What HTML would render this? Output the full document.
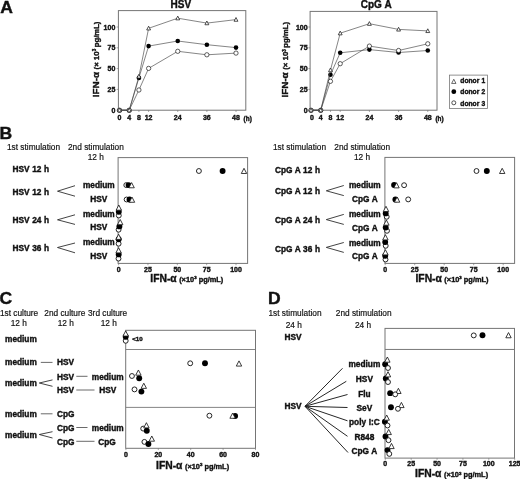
<!DOCTYPE html>
<html><head><meta charset="utf-8"><title>Figure</title>
<style>
html,body{margin:0;padding:0;background:#fff;}
body{width:520px;height:479px;overflow:hidden;}
svg{display:block;will-change:transform;filter:grayscale(1) blur(0.35px);font-family:'Liberation Sans', sans-serif;fill:#111;}
.b{font-weight:bold;word-spacing:0.3px;stroke:#111;stroke-width:0.38px;}
.n{font-weight:normal;stroke:#111;stroke-width:0.18px;}
</style></head><body>
<svg width="520" height="479" viewBox="0 0 520 479">
<rect width="520" height="479" fill="#fff"/>
<text class="b" transform="translate(0.20,12.80) scale(1.07,1)" font-size="16.4">A</text>
<rect x="118.40" y="10.60" width="127.40" height="99.60" fill="none" stroke="#757575" stroke-width="1.0"/>
<text class="b" x="180.80" y="7.70" font-size="10" text-anchor="middle" >HSV</text>
<line x1="116.60" y1="110.20" x2="118.40" y2="110.20" stroke="#6e6e6e" stroke-width="0.6"/>
<text class="b" x="115.30" y="112.80" font-size="7" text-anchor="end" >0</text>
<line x1="116.60" y1="89.40" x2="118.40" y2="89.40" stroke="#6e6e6e" stroke-width="0.6"/>
<text class="b" x="115.30" y="92.00" font-size="7" text-anchor="end" >25</text>
<line x1="116.60" y1="68.60" x2="118.40" y2="68.60" stroke="#6e6e6e" stroke-width="0.6"/>
<text class="b" x="115.30" y="71.20" font-size="7" text-anchor="end" >50</text>
<line x1="116.60" y1="47.80" x2="118.40" y2="47.80" stroke="#6e6e6e" stroke-width="0.6"/>
<text class="b" x="115.30" y="50.40" font-size="7" text-anchor="end" >75</text>
<line x1="116.60" y1="27.00" x2="118.40" y2="27.00" stroke="#6e6e6e" stroke-width="0.6"/>
<text class="b" x="115.30" y="29.60" font-size="7" text-anchor="end" >100</text>
<line x1="119.50" y1="110.20" x2="119.50" y2="112.00" stroke="#6e6e6e" stroke-width="0.6"/>
<text class="b" x="119.50" y="120.20" font-size="7" text-anchor="middle" >0</text>
<line x1="129.21" y1="110.20" x2="129.21" y2="112.00" stroke="#6e6e6e" stroke-width="0.6"/>
<text class="b" x="129.21" y="120.20" font-size="7" text-anchor="middle" >4</text>
<line x1="138.92" y1="110.20" x2="138.92" y2="112.00" stroke="#6e6e6e" stroke-width="0.6"/>
<text class="b" x="138.92" y="120.20" font-size="7" text-anchor="middle" >8</text>
<line x1="148.62" y1="110.20" x2="148.62" y2="112.00" stroke="#6e6e6e" stroke-width="0.6"/>
<text class="b" x="148.62" y="120.20" font-size="7" text-anchor="middle" >12</text>
<line x1="177.75" y1="110.20" x2="177.75" y2="112.00" stroke="#6e6e6e" stroke-width="0.6"/>
<text class="b" x="177.75" y="120.20" font-size="7" text-anchor="middle" >24</text>
<line x1="206.87" y1="110.20" x2="206.87" y2="112.00" stroke="#6e6e6e" stroke-width="0.6"/>
<text class="b" x="206.87" y="120.20" font-size="7" text-anchor="middle" >36</text>
<line x1="236.00" y1="110.20" x2="236.00" y2="112.00" stroke="#6e6e6e" stroke-width="0.6"/>
<text class="b" x="236.00" y="120.20" font-size="7" text-anchor="middle" >48</text>
<text class="b" x="243.60" y="120.90" font-size="6.4" text-anchor="start" >(h)</text>
<text transform="translate(95.50,59.40) rotate(-90)" text-anchor="middle" class="b" y="3.4"><tspan font-size="9.9">IFN-α</tspan><tspan font-size="7.7" dx="2.5">(× 10</tspan><tspan font-size="4.6" dy="-2.9">3 </tspan><tspan font-size="7.7" dy="2.9">pg/mL)</tspan></text>
<polyline points="119.50,110.20 129.21,110.20 138.92,77.90 148.62,46.10 177.75,41.00 206.87,44.70 236.00,47.60" fill="none" stroke="#444" stroke-width="0.65"/>
<circle cx="119.50" cy="110.20" r="2.3" fill="#000"/>
<circle cx="129.21" cy="110.20" r="2.3" fill="#000"/>
<circle cx="138.92" cy="77.90" r="2.3" fill="#000"/>
<circle cx="148.62" cy="46.10" r="2.3" fill="#000"/>
<circle cx="177.75" cy="41.00" r="2.3" fill="#000"/>
<circle cx="206.87" cy="44.70" r="2.3" fill="#000"/>
<circle cx="236.00" cy="47.60" r="2.3" fill="#000"/>
<polyline points="119.50,110.20 129.21,110.20 138.92,90.00 148.62,68.40 177.75,51.30 206.87,54.80 236.00,53.10" fill="none" stroke="#444" stroke-width="0.65"/>
<circle cx="119.50" cy="110.20" r="2.15" fill="#fff" stroke="#1a1a1a" stroke-width="0.7"/>
<circle cx="129.21" cy="110.20" r="2.15" fill="#fff" stroke="#1a1a1a" stroke-width="0.7"/>
<circle cx="138.92" cy="90.00" r="2.15" fill="#fff" stroke="#1a1a1a" stroke-width="0.7"/>
<circle cx="148.62" cy="68.40" r="2.15" fill="#fff" stroke="#1a1a1a" stroke-width="0.7"/>
<circle cx="177.75" cy="51.30" r="2.15" fill="#fff" stroke="#1a1a1a" stroke-width="0.7"/>
<circle cx="206.87" cy="54.80" r="2.15" fill="#fff" stroke="#1a1a1a" stroke-width="0.7"/>
<circle cx="236.00" cy="53.10" r="2.15" fill="#fff" stroke="#1a1a1a" stroke-width="0.7"/>
<polyline points="119.50,110.20 129.21,110.20 138.92,76.40 148.62,28.30 177.75,18.20 206.87,23.10 236.00,19.60" fill="none" stroke="#444" stroke-width="0.65"/>
<path d="M119.50,108.10 L121.44,111.85 L117.56,111.85 Z" fill="#fff" stroke="#1a1a1a" stroke-width="0.75" stroke-linejoin="miter"/>
<path d="M129.21,108.10 L131.15,111.85 L127.26,111.85 Z" fill="#fff" stroke="#1a1a1a" stroke-width="0.75" stroke-linejoin="miter"/>
<path d="M138.92,74.30 L140.86,78.05 L136.97,78.05 Z" fill="#fff" stroke="#1a1a1a" stroke-width="0.75" stroke-linejoin="miter"/>
<path d="M148.62,26.20 L150.57,29.95 L146.68,29.95 Z" fill="#fff" stroke="#1a1a1a" stroke-width="0.75" stroke-linejoin="miter"/>
<path d="M177.75,16.10 L179.69,19.85 L175.80,19.85 Z" fill="#fff" stroke="#1a1a1a" stroke-width="0.75" stroke-linejoin="miter"/>
<path d="M206.87,21.00 L208.82,24.75 L204.93,24.75 Z" fill="#fff" stroke="#1a1a1a" stroke-width="0.75" stroke-linejoin="miter"/>
<path d="M236.00,17.50 L237.94,21.25 L234.05,21.25 Z" fill="#fff" stroke="#1a1a1a" stroke-width="0.75" stroke-linejoin="miter"/>
<rect x="310.10" y="11.40" width="126.90" height="98.80" fill="none" stroke="#757575" stroke-width="1.0"/>
<text class="b" x="376.30" y="7.70" font-size="10" text-anchor="middle" >CpG A</text>
<line x1="308.30" y1="110.20" x2="310.10" y2="110.20" stroke="#6e6e6e" stroke-width="0.6"/>
<text class="b" x="307.60" y="112.80" font-size="7" text-anchor="end" >0</text>
<line x1="308.30" y1="89.40" x2="310.10" y2="89.40" stroke="#6e6e6e" stroke-width="0.6"/>
<text class="b" x="307.60" y="92.00" font-size="7" text-anchor="end" >25</text>
<line x1="308.30" y1="68.60" x2="310.10" y2="68.60" stroke="#6e6e6e" stroke-width="0.6"/>
<text class="b" x="307.60" y="71.20" font-size="7" text-anchor="end" >50</text>
<line x1="308.30" y1="47.80" x2="310.10" y2="47.80" stroke="#6e6e6e" stroke-width="0.6"/>
<text class="b" x="307.60" y="50.40" font-size="7" text-anchor="end" >75</text>
<line x1="308.30" y1="27.00" x2="310.10" y2="27.00" stroke="#6e6e6e" stroke-width="0.6"/>
<text class="b" x="307.60" y="29.60" font-size="7" text-anchor="end" >100</text>
<line x1="311.00" y1="110.20" x2="311.00" y2="112.00" stroke="#6e6e6e" stroke-width="0.6"/>
<text class="b" x="311.90" y="120.20" font-size="7" text-anchor="middle" >0</text>
<line x1="320.73" y1="110.20" x2="320.73" y2="112.00" stroke="#6e6e6e" stroke-width="0.6"/>
<text class="b" x="320.73" y="120.20" font-size="7" text-anchor="middle" >4</text>
<line x1="330.46" y1="110.20" x2="330.46" y2="112.00" stroke="#6e6e6e" stroke-width="0.6"/>
<text class="b" x="330.46" y="120.20" font-size="7" text-anchor="middle" >8</text>
<line x1="340.20" y1="110.20" x2="340.20" y2="112.00" stroke="#6e6e6e" stroke-width="0.6"/>
<text class="b" x="340.20" y="120.20" font-size="7" text-anchor="middle" >12</text>
<line x1="369.39" y1="110.20" x2="369.39" y2="112.00" stroke="#6e6e6e" stroke-width="0.6"/>
<text class="b" x="369.39" y="120.20" font-size="7" text-anchor="middle" >24</text>
<line x1="398.59" y1="110.20" x2="398.59" y2="112.00" stroke="#6e6e6e" stroke-width="0.6"/>
<text class="b" x="398.59" y="120.20" font-size="7" text-anchor="middle" >36</text>
<line x1="427.78" y1="110.20" x2="427.78" y2="112.00" stroke="#6e6e6e" stroke-width="0.6"/>
<text class="b" x="427.78" y="120.20" font-size="7" text-anchor="middle" >48</text>
<text class="b" x="435.38" y="120.90" font-size="6.4" text-anchor="start" >(h)</text>
<text transform="translate(285.00,59.80) rotate(-90)" text-anchor="middle" class="b" y="3.4"><tspan font-size="9.9">IFN-α</tspan><tspan font-size="7.7" dx="2.5">(× 10</tspan><tspan font-size="4.6" dy="-2.9">3 </tspan><tspan font-size="7.7" dy="2.9">pg/mL)</tspan></text>
<polyline points="311.00,110.20 320.73,110.20 330.46,74.70 340.20,52.80 369.39,49.60 398.59,52.50 427.78,50.50" fill="none" stroke="#444" stroke-width="0.65"/>
<circle cx="311.00" cy="110.20" r="2.3" fill="#000"/>
<circle cx="320.73" cy="110.20" r="2.3" fill="#000"/>
<circle cx="330.46" cy="74.70" r="2.3" fill="#000"/>
<circle cx="340.20" cy="52.80" r="2.3" fill="#000"/>
<circle cx="369.39" cy="49.60" r="2.3" fill="#000"/>
<circle cx="398.59" cy="52.50" r="2.3" fill="#000"/>
<circle cx="427.78" cy="50.50" r="2.3" fill="#000"/>
<polyline points="311.00,110.20 320.73,110.20 330.46,81.30 340.20,63.70 369.39,46.10 398.59,50.50 427.78,43.80" fill="none" stroke="#444" stroke-width="0.65"/>
<circle cx="311.00" cy="110.20" r="2.15" fill="#fff" stroke="#1a1a1a" stroke-width="0.7"/>
<circle cx="320.73" cy="110.20" r="2.15" fill="#fff" stroke="#1a1a1a" stroke-width="0.7"/>
<circle cx="330.46" cy="81.30" r="2.15" fill="#fff" stroke="#1a1a1a" stroke-width="0.7"/>
<circle cx="340.20" cy="63.70" r="2.15" fill="#fff" stroke="#1a1a1a" stroke-width="0.7"/>
<circle cx="369.39" cy="46.10" r="2.15" fill="#fff" stroke="#1a1a1a" stroke-width="0.7"/>
<circle cx="398.59" cy="50.50" r="2.15" fill="#fff" stroke="#1a1a1a" stroke-width="0.7"/>
<circle cx="427.78" cy="43.80" r="2.15" fill="#fff" stroke="#1a1a1a" stroke-width="0.7"/>
<polyline points="311.00,110.20 320.73,110.20 330.46,70.10 340.20,33.20 369.39,23.70 398.59,29.40 427.78,30.90" fill="none" stroke="#444" stroke-width="0.65"/>
<path d="M311.00,108.10 L312.94,111.85 L309.06,111.85 Z" fill="#fff" stroke="#1a1a1a" stroke-width="0.75" stroke-linejoin="miter"/>
<path d="M320.73,108.10 L322.68,111.85 L318.79,111.85 Z" fill="#fff" stroke="#1a1a1a" stroke-width="0.75" stroke-linejoin="miter"/>
<path d="M330.46,68.00 L332.41,71.75 L328.52,71.75 Z" fill="#fff" stroke="#1a1a1a" stroke-width="0.75" stroke-linejoin="miter"/>
<path d="M340.20,31.10 L342.14,34.85 L338.25,34.85 Z" fill="#fff" stroke="#1a1a1a" stroke-width="0.75" stroke-linejoin="miter"/>
<path d="M369.39,21.60 L371.34,25.35 L367.45,25.35 Z" fill="#fff" stroke="#1a1a1a" stroke-width="0.75" stroke-linejoin="miter"/>
<path d="M398.59,27.30 L400.53,31.05 L396.64,31.05 Z" fill="#fff" stroke="#1a1a1a" stroke-width="0.75" stroke-linejoin="miter"/>
<path d="M427.78,28.80 L429.73,32.55 L425.84,32.55 Z" fill="#fff" stroke="#1a1a1a" stroke-width="0.75" stroke-linejoin="miter"/>
<rect x="449.40" y="75.10" width="38.10" height="33.40" fill="none" stroke="#777" stroke-width="0.8"/>
<path d="M453.80,79.27 L455.96,83.43 L451.64,83.43 Z" fill="#fff" stroke="#1a1a1a" stroke-width="0.65" stroke-linejoin="miter"/>
<circle cx="453.80" cy="91.70" r="2.4" fill="#000"/>
<circle cx="453.80" cy="102.80" r="2.0" fill="#fff" stroke="#1a1a1a" stroke-width="0.75"/>
<text class="b" x="460.30" y="83.10" font-size="6.7" text-anchor="start" >donor 1</text>
<text class="b" x="460.30" y="94.20" font-size="6.7" text-anchor="start" >donor 2</text>
<text class="b" x="460.30" y="105.70" font-size="6.7" text-anchor="start" >donor 3</text>
<text class="b" transform="translate(-0.50,138.50) scale(1.07,1)" font-size="16.4">B</text>
<rect x="118.10" y="157.60" width="129.50" height="105.80" fill="none" stroke="#757575" stroke-width="1.0"/>
<text class="n" x="7.00" y="150.20" font-size="8.3" text-anchor="start" >1st stimulation</text>
<text class="n" x="68.00" y="150.20" font-size="8.3" text-anchor="start" >2nd stimulation</text>
<text class="n" x="95.80" y="160.10" font-size="8.3" text-anchor="middle" >12 h</text>
<text class="b" x="12.50" y="172.49" font-size="8.3" text-anchor="start" >HSV 12 h</text>
<text class="b" x="12.50" y="195.29" font-size="8.3" text-anchor="start" >HSV 12 h</text>
<text class="b" x="12.50" y="222.99" font-size="8.3" text-anchor="start" >HSV 24 h</text>
<text class="b" x="12.50" y="250.99" font-size="8.3" text-anchor="start" >HSV 36 h</text>
<text class="b" x="98.80" y="188.49" font-size="8.3" text-anchor="middle" >medium</text>
<text class="b" x="98.80" y="202.39" font-size="8.3" text-anchor="middle" >HSV</text>
<text class="b" x="98.80" y="217.49" font-size="8.3" text-anchor="middle" >medium</text>
<text class="b" x="98.80" y="230.19" font-size="8.3" text-anchor="middle" >HSV</text>
<text class="b" x="98.80" y="245.49" font-size="8.3" text-anchor="middle" >medium</text>
<text class="b" x="98.80" y="258.89" font-size="8.3" text-anchor="middle" >HSV</text>
<polyline points="75.00,185.70 57.50,191.20 75.00,196.20" fill="none" stroke="#222" stroke-width="0.85"/>
<polyline points="75.00,214.80 57.50,219.80 75.00,224.40" fill="none" stroke="#222" stroke-width="0.85"/>
<polyline points="75.00,243.00 57.50,247.50 75.00,252.80" fill="none" stroke="#222" stroke-width="0.85"/>
<line x1="118.60" y1="263.40" x2="118.60" y2="265.20" stroke="#6e6e6e" stroke-width="0.6"/>
<text class="b" x="118.60" y="271.80" font-size="7.0" text-anchor="middle" >0</text>
<line x1="147.95" y1="263.40" x2="147.95" y2="265.20" stroke="#6e6e6e" stroke-width="0.6"/>
<text class="b" x="147.95" y="271.80" font-size="7.0" text-anchor="middle" >25</text>
<line x1="177.30" y1="263.40" x2="177.30" y2="265.20" stroke="#6e6e6e" stroke-width="0.6"/>
<text class="b" x="177.30" y="271.80" font-size="7.0" text-anchor="middle" >50</text>
<line x1="206.65" y1="263.40" x2="206.65" y2="265.20" stroke="#6e6e6e" stroke-width="0.6"/>
<text class="b" x="206.65" y="271.80" font-size="7.0" text-anchor="middle" >75</text>
<line x1="236.00" y1="263.40" x2="236.00" y2="265.20" stroke="#6e6e6e" stroke-width="0.6"/>
<text class="b" x="236.00" y="271.80" font-size="7.0" text-anchor="middle" >100</text>
<text x="186.80" y="281.70" text-anchor="middle" class="b"><tspan font-size="10.3">IFN-α</tspan><tspan font-size="7.4" dx="2.5">(×10</tspan><tspan font-size="4.4" dy="-2.8">3</tspan><tspan font-size="7.4" dy="2.8" dx="-0.3"> pg/mL)</tspan></text>
<circle cx="198.90" cy="171.00" r="2.45" fill="#fff" stroke="#1a1a1a" stroke-width="0.95"/>
<circle cx="222.60" cy="171.00" r="2.95" fill="#000"/>
<path d="M244.00,168.29 L246.70,173.49 L241.30,173.49 Z" fill="#fff" stroke="#1a1a1a" stroke-width="0.85" stroke-linejoin="miter"/>
<circle cx="126.30" cy="185.10" r="2.45" fill="#fff" stroke="#1a1a1a" stroke-width="0.95"/>
<circle cx="128.60" cy="185.10" r="2.95" fill="#000"/>
<path d="M131.60,182.59 L134.30,187.79 L128.90,187.79 Z" fill="#fff" stroke="#1a1a1a" stroke-width="0.85" stroke-linejoin="miter"/>
<circle cx="126.60" cy="199.50" r="2.45" fill="#fff" stroke="#1a1a1a" stroke-width="0.95"/>
<circle cx="129.50" cy="199.50" r="2.95" fill="#000"/>
<path d="M132.00,197.09 L134.70,202.29 L129.30,202.29 Z" fill="#fff" stroke="#1a1a1a" stroke-width="0.85" stroke-linejoin="miter"/>
<circle cx="118.80" cy="215.50" r="2.45" fill="#fff" stroke="#1a1a1a" stroke-width="0.95"/>
<circle cx="118.80" cy="211.75" r="2.95" fill="#000"/>
<path d="M118.80,204.99 L121.50,210.19 L116.10,210.19 Z" fill="#fff" stroke="#1a1a1a" stroke-width="0.85" stroke-linejoin="miter"/>
<circle cx="118.60" cy="229.70" r="2.45" fill="#fff" stroke="#1a1a1a" stroke-width="0.95"/>
<circle cx="119.40" cy="226.40" r="2.95" fill="#000"/>
<path d="M120.20,219.49 L122.90,224.69 L117.50,224.69 Z" fill="#fff" stroke="#1a1a1a" stroke-width="0.85" stroke-linejoin="miter"/>
<circle cx="118.60" cy="243.70" r="2.45" fill="#fff" stroke="#1a1a1a" stroke-width="0.95"/>
<circle cx="118.70" cy="239.30" r="2.95" fill="#000"/>
<path d="M118.60,234.19 L121.30,239.39 L115.90,239.39 Z" fill="#fff" stroke="#1a1a1a" stroke-width="0.85" stroke-linejoin="miter"/>
<circle cx="118.50" cy="258.60" r="2.45" fill="#fff" stroke="#1a1a1a" stroke-width="0.95"/>
<circle cx="118.70" cy="254.40" r="2.95" fill="#000"/>
<path d="M118.60,247.69 L121.30,252.89 L115.90,252.89 Z" fill="#fff" stroke="#1a1a1a" stroke-width="0.85" stroke-linejoin="miter"/>
<rect x="384.90" y="157.40" width="129.70" height="106.00" fill="none" stroke="#757575" stroke-width="1.0"/>
<text class="n" x="273.00" y="150.20" font-size="8.3" text-anchor="start" >1st stimulation</text>
<text class="n" x="334.30" y="150.20" font-size="8.3" text-anchor="start" >2nd stimulation</text>
<text class="n" x="362.00" y="160.10" font-size="8.3" text-anchor="middle" >12 h</text>
<text class="b" x="275.00" y="172.69" font-size="8.3" text-anchor="start" >CpG A 12 h</text>
<text class="b" x="275.00" y="194.19" font-size="8.3" text-anchor="start" >CpG A 12 h</text>
<text class="b" x="275.00" y="222.79" font-size="8.3" text-anchor="start" >CpG A 24 h</text>
<text class="b" x="275.00" y="251.59" font-size="8.3" text-anchor="start" >CpG A 36 h</text>
<text class="b" x="364.80" y="188.49" font-size="8.3" text-anchor="middle" >medium</text>
<text class="b" x="364.80" y="202.39" font-size="8.3" text-anchor="middle" >CpG A</text>
<text class="b" x="364.80" y="216.99" font-size="8.3" text-anchor="middle" >medium</text>
<text class="b" x="364.80" y="230.89" font-size="8.3" text-anchor="middle" >CpG A</text>
<text class="b" x="364.80" y="246.19" font-size="8.3" text-anchor="middle" >medium</text>
<text class="b" x="364.80" y="259.29" font-size="8.3" text-anchor="middle" >CpG A</text>
<polyline points="343.80,185.50 326.30,190.80 343.80,195.60" fill="none" stroke="#222" stroke-width="0.85"/>
<polyline points="343.80,214.40 326.30,219.60 343.80,224.40" fill="none" stroke="#222" stroke-width="0.85"/>
<polyline points="343.80,242.50 326.30,247.40 343.80,252.40" fill="none" stroke="#222" stroke-width="0.85"/>
<line x1="385.20" y1="263.40" x2="385.20" y2="265.20" stroke="#6e6e6e" stroke-width="0.6"/>
<text class="b" x="385.20" y="271.80" font-size="7.0" text-anchor="middle" >0</text>
<line x1="414.70" y1="263.40" x2="414.70" y2="265.20" stroke="#6e6e6e" stroke-width="0.6"/>
<text class="b" x="414.70" y="271.80" font-size="7.0" text-anchor="middle" >25</text>
<line x1="444.20" y1="263.40" x2="444.20" y2="265.20" stroke="#6e6e6e" stroke-width="0.6"/>
<text class="b" x="444.20" y="271.80" font-size="7.0" text-anchor="middle" >50</text>
<line x1="473.70" y1="263.40" x2="473.70" y2="265.20" stroke="#6e6e6e" stroke-width="0.6"/>
<text class="b" x="473.70" y="271.80" font-size="7.0" text-anchor="middle" >75</text>
<line x1="503.20" y1="263.40" x2="503.20" y2="265.20" stroke="#6e6e6e" stroke-width="0.6"/>
<text class="b" x="503.20" y="271.80" font-size="7.0" text-anchor="middle" >100</text>
<text x="452.00" y="281.70" text-anchor="middle" class="b"><tspan font-size="10.3">IFN-α</tspan><tspan font-size="7.4" dx="2.5">(×10</tspan><tspan font-size="4.4" dy="-2.8">3</tspan><tspan font-size="7.4" dy="2.8" dx="-0.3"> pg/mL)</tspan></text>
<circle cx="476.50" cy="171.00" r="2.45" fill="#fff" stroke="#1a1a1a" stroke-width="0.95"/>
<circle cx="486.80" cy="171.00" r="2.95" fill="#000"/>
<path d="M502.20,168.29 L504.90,173.49 L499.50,173.49 Z" fill="#fff" stroke="#1a1a1a" stroke-width="0.85" stroke-linejoin="miter"/>
<circle cx="404.10" cy="185.20" r="2.45" fill="#fff" stroke="#1a1a1a" stroke-width="0.95"/>
<circle cx="394.10" cy="185.00" r="2.95" fill="#000"/>
<path d="M396.50,182.69 L399.20,187.89 L393.80,187.89 Z" fill="#fff" stroke="#1a1a1a" stroke-width="0.85" stroke-linejoin="miter"/>
<circle cx="408.20" cy="199.40" r="2.45" fill="#fff" stroke="#1a1a1a" stroke-width="0.95"/>
<circle cx="395.40" cy="199.40" r="2.95" fill="#000"/>
<path d="M397.10,196.99 L399.80,202.19 L394.40,202.19 Z" fill="#fff" stroke="#1a1a1a" stroke-width="0.85" stroke-linejoin="miter"/>
<circle cx="386.70" cy="216.80" r="2.45" fill="#fff" stroke="#1a1a1a" stroke-width="0.95"/>
<circle cx="385.70" cy="213.40" r="2.95" fill="#000"/>
<path d="M386.00,206.29 L388.70,211.49 L383.30,211.49 Z" fill="#fff" stroke="#1a1a1a" stroke-width="0.85" stroke-linejoin="miter"/>
<circle cx="387.00" cy="230.80" r="2.45" fill="#fff" stroke="#1a1a1a" stroke-width="0.95"/>
<circle cx="385.70" cy="227.50" r="2.95" fill="#000"/>
<path d="M386.40,219.99 L389.10,225.19 L383.70,225.19 Z" fill="#fff" stroke="#1a1a1a" stroke-width="0.85" stroke-linejoin="miter"/>
<circle cx="385.70" cy="245.80" r="2.45" fill="#fff" stroke="#1a1a1a" stroke-width="0.95"/>
<circle cx="385.20" cy="242.10" r="2.95" fill="#000"/>
<path d="M385.40,234.69 L388.10,239.89 L382.70,239.89 Z" fill="#fff" stroke="#1a1a1a" stroke-width="0.85" stroke-linejoin="miter"/>
<circle cx="385.50" cy="259.50" r="2.45" fill="#fff" stroke="#1a1a1a" stroke-width="0.95"/>
<circle cx="385.20" cy="255.80" r="2.95" fill="#000"/>
<path d="M385.40,249.69 L388.10,254.89 L382.70,254.89 Z" fill="#fff" stroke="#1a1a1a" stroke-width="0.85" stroke-linejoin="miter"/>
<text class="b" transform="translate(-0.40,303.50) scale(1.07,1)" font-size="16.4">C</text>
<text class="n" x="-0.10" y="315.90" font-size="8.3" text-anchor="start" >1st culture</text>
<text class="n" x="44.30" y="315.80" font-size="8.3" text-anchor="start" >2nd culture</text>
<text class="n" x="88.00" y="315.80" font-size="8.3" text-anchor="start" >3rd culture</text>
<text class="n" x="18.80" y="326.30" font-size="8.3" text-anchor="middle" >12 h</text>
<text class="n" x="65.80" y="326.30" font-size="8.3" text-anchor="middle" >12 h</text>
<text class="n" x="108.80" y="326.30" font-size="8.3" text-anchor="middle" >12 h</text>
<rect x="125.70" y="330.30" width="129.80" height="118.00" fill="none" stroke="#757575" stroke-width="1.0"/>
<line x1="125.70" y1="349.50" x2="255.50" y2="349.50" stroke="#777" stroke-width="0.9"/>
<line x1="125.70" y1="407.40" x2="255.50" y2="407.40" stroke="#777" stroke-width="0.9"/>
<line x1="125.90" y1="448.30" x2="125.90" y2="450.10" stroke="#6e6e6e" stroke-width="0.6"/>
<text class="b" x="125.90" y="456.60" font-size="7.0" text-anchor="middle" >0</text>
<line x1="158.30" y1="448.30" x2="158.30" y2="450.10" stroke="#6e6e6e" stroke-width="0.6"/>
<text class="b" x="158.30" y="456.60" font-size="7.0" text-anchor="middle" >20</text>
<line x1="190.70" y1="448.30" x2="190.70" y2="450.10" stroke="#6e6e6e" stroke-width="0.6"/>
<text class="b" x="190.70" y="456.60" font-size="7.0" text-anchor="middle" >40</text>
<line x1="223.10" y1="448.30" x2="223.10" y2="450.10" stroke="#6e6e6e" stroke-width="0.6"/>
<text class="b" x="223.10" y="456.60" font-size="7.0" text-anchor="middle" >60</text>
<line x1="255.50" y1="448.30" x2="255.50" y2="450.10" stroke="#6e6e6e" stroke-width="0.6"/>
<text class="b" x="255.50" y="456.60" font-size="7.0" text-anchor="middle" >80</text>
<text x="192.60" y="468.60" text-anchor="middle" class="b"><tspan font-size="10.3">IFN-α</tspan><tspan font-size="7.4" dx="2.5">(×10</tspan><tspan font-size="4.4" dy="-2.8">3</tspan><tspan font-size="7.4" dy="2.8" dx="-0.3"> pg/mL)</tspan></text>
<text class="b" x="5.00" y="342.09" font-size="8.3" text-anchor="start" >medium</text>
<text class="b" x="5.00" y="365.29" font-size="8.3" text-anchor="start" >medium</text>
<line x1="40.80" y1="362.40" x2="52.50" y2="362.40" stroke="#444" stroke-width="0.8"/>
<text class="b" x="57.00" y="365.29" font-size="8.3" text-anchor="start" >HSV</text>
<text class="b" x="5.00" y="386.29" font-size="8.3" text-anchor="start" >medium</text>
<polyline points="52.50,379.90 39.30,383.00 52.50,386.30" fill="none" stroke="#222" stroke-width="0.85"/>
<text class="b" x="57.00" y="379.79" font-size="8.3" text-anchor="start" >HSV</text>
<line x1="76.30" y1="376.30" x2="87.50" y2="376.30" stroke="#444" stroke-width="0.8"/>
<text class="b" x="91.80" y="379.59" font-size="8.3" text-anchor="start" >medium</text>
<text class="b" x="57.00" y="393.49" font-size="8.3" text-anchor="start" >HSV</text>
<line x1="76.30" y1="390.00" x2="94.50" y2="390.00" stroke="#444" stroke-width="0.8"/>
<text class="b" x="99.30" y="393.49" font-size="8.3" text-anchor="start" >HSV</text>
<text class="b" x="5.00" y="416.99" font-size="8.3" text-anchor="start" >medium</text>
<line x1="40.80" y1="413.80" x2="52.50" y2="413.80" stroke="#444" stroke-width="0.8"/>
<text class="b" x="57.00" y="417.29" font-size="8.3" text-anchor="start" >CpG</text>
<text class="b" x="5.00" y="437.79" font-size="8.3" text-anchor="start" >medium</text>
<polyline points="52.50,431.70 39.30,434.50 52.50,438.00" fill="none" stroke="#222" stroke-width="0.85"/>
<text class="b" x="57.00" y="430.99" font-size="8.3" text-anchor="start" >CpG</text>
<line x1="76.30" y1="427.50" x2="87.50" y2="427.50" stroke="#444" stroke-width="0.8"/>
<text class="b" x="91.80" y="430.79" font-size="8.3" text-anchor="start" >medium</text>
<text class="b" x="57.00" y="444.79" font-size="8.3" text-anchor="start" >CpG</text>
<line x1="76.30" y1="441.30" x2="94.50" y2="441.30" stroke="#444" stroke-width="0.8"/>
<text class="b" x="98.30" y="444.79" font-size="8.3" text-anchor="start" >CpG</text>
<text class="b" x="132.20" y="340.90" font-size="6.2" text-anchor="start" >&lt;10</text>
<circle cx="125.70" cy="340.80" r="2.45" fill="#fff" stroke="#1a1a1a" stroke-width="0.95"/>
<circle cx="125.70" cy="336.80" r="2.95" fill="#000"/>
<path d="M125.70,330.89 L128.40,336.09 L123.00,336.09 Z" fill="#fff" stroke="#1a1a1a" stroke-width="0.85" stroke-linejoin="miter"/>
<circle cx="190.20" cy="363.30" r="2.45" fill="#fff" stroke="#1a1a1a" stroke-width="0.95"/>
<circle cx="205.00" cy="363.30" r="2.95" fill="#000"/>
<path d="M239.00,360.89 L241.70,366.09 L236.30,366.09 Z" fill="#fff" stroke="#1a1a1a" stroke-width="0.85" stroke-linejoin="miter"/>
<circle cx="131.95" cy="376.00" r="2.45" fill="#fff" stroke="#1a1a1a" stroke-width="0.95"/>
<circle cx="139.20" cy="378.30" r="2.95" fill="#000"/>
<path d="M138.40,369.99 L141.10,375.19 L135.70,375.19 Z" fill="#fff" stroke="#1a1a1a" stroke-width="0.85" stroke-linejoin="miter"/>
<circle cx="134.50" cy="389.40" r="2.45" fill="#fff" stroke="#1a1a1a" stroke-width="0.95"/>
<circle cx="141.40" cy="391.60" r="2.95" fill="#000"/>
<path d="M143.80,383.19 L146.50,388.39 L141.10,388.39 Z" fill="#fff" stroke="#1a1a1a" stroke-width="0.85" stroke-linejoin="miter"/>
<circle cx="209.40" cy="415.70" r="2.45" fill="#fff" stroke="#1a1a1a" stroke-width="0.95"/>
<circle cx="235.10" cy="416.00" r="2.95" fill="#000"/>
<path d="M232.60,413.09 L235.30,418.29 L229.90,418.29 Z" fill="#fff" stroke="#1a1a1a" stroke-width="0.85" stroke-linejoin="miter"/>
<circle cx="143.20" cy="428.60" r="2.45" fill="#fff" stroke="#1a1a1a" stroke-width="0.95"/>
<circle cx="146.80" cy="430.80" r="2.95" fill="#000"/>
<path d="M146.40,422.69 L149.10,427.89 L143.70,427.89 Z" fill="#fff" stroke="#1a1a1a" stroke-width="0.85" stroke-linejoin="miter"/>
<circle cx="144.40" cy="441.90" r="2.45" fill="#fff" stroke="#1a1a1a" stroke-width="0.95"/>
<circle cx="148.40" cy="444.00" r="2.95" fill="#000"/>
<path d="M151.80,435.99 L154.50,441.19 L149.10,441.19 Z" fill="#fff" stroke="#1a1a1a" stroke-width="0.85" stroke-linejoin="miter"/>
<text class="b" transform="translate(267.90,303.70) scale(1.07,1)" font-size="16.4">D</text>
<text class="n" x="268.50" y="315.90" font-size="8.3" text-anchor="start" >1st stimulation</text>
<text class="n" x="335.80" y="315.80" font-size="8.3" text-anchor="start" >2nd stimulation</text>
<text class="n" x="293.80" y="327.70" font-size="8.3" text-anchor="middle" >24 h</text>
<text class="n" x="363.00" y="327.70" font-size="8.3" text-anchor="middle" >24 h</text>
<text class="b" x="293.00" y="339.99" font-size="8.3" text-anchor="middle" >HSV</text>
<rect x="385.00" y="328.40" width="129.50" height="129.70" fill="none" stroke="#757575" stroke-width="1.0"/>
<line x1="385.00" y1="349.45" x2="514.50" y2="349.45" stroke="#777" stroke-width="1.0"/>
<line x1="385.30" y1="458.10" x2="385.30" y2="459.90" stroke="#6e6e6e" stroke-width="0.6"/>
<text class="b" x="385.30" y="466.30" font-size="7.0" text-anchor="middle" >0</text>
<line x1="411.18" y1="458.10" x2="411.18" y2="459.90" stroke="#6e6e6e" stroke-width="0.6"/>
<text class="b" x="411.18" y="466.30" font-size="7.0" text-anchor="middle" >25</text>
<line x1="437.05" y1="458.10" x2="437.05" y2="459.90" stroke="#6e6e6e" stroke-width="0.6"/>
<text class="b" x="437.05" y="466.30" font-size="7.0" text-anchor="middle" >50</text>
<line x1="462.93" y1="458.10" x2="462.93" y2="459.90" stroke="#6e6e6e" stroke-width="0.6"/>
<text class="b" x="462.93" y="466.30" font-size="7.0" text-anchor="middle" >75</text>
<line x1="488.80" y1="458.10" x2="488.80" y2="459.90" stroke="#6e6e6e" stroke-width="0.6"/>
<text class="b" x="488.80" y="466.30" font-size="7.0" text-anchor="middle" >100</text>
<line x1="514.67" y1="458.10" x2="514.67" y2="459.90" stroke="#6e6e6e" stroke-width="0.6"/>
<text class="b" x="514.67" y="466.30" font-size="7.0" text-anchor="middle" >125</text>
<text x="451.60" y="477.30" text-anchor="middle" class="b"><tspan font-size="10.3">IFN-α</tspan><tspan font-size="7.4" dx="2.5">(×10</tspan><tspan font-size="4.4" dy="-2.8">3</tspan><tspan font-size="7.4" dy="2.8" dx="-0.3"> pg/mL)</tspan></text>
<text class="b" x="284.50" y="409.29" font-size="8.3" text-anchor="start" >HSV</text>
<line x1="305.00" y1="406.30" x2="342.50" y2="368.30" stroke="#1a1a1a" stroke-width="0.95"/>
<line x1="305.00" y1="406.30" x2="346.30" y2="381.30" stroke="#1a1a1a" stroke-width="0.95"/>
<line x1="305.00" y1="406.30" x2="347.50" y2="394.50" stroke="#1a1a1a" stroke-width="0.95"/>
<line x1="305.00" y1="406.30" x2="347.50" y2="407.50" stroke="#1a1a1a" stroke-width="0.95"/>
<line x1="305.00" y1="406.30" x2="347.50" y2="420.80" stroke="#1a1a1a" stroke-width="0.95"/>
<line x1="305.00" y1="406.30" x2="347.50" y2="436.30" stroke="#1a1a1a" stroke-width="0.95"/>
<line x1="305.00" y1="406.30" x2="348.00" y2="452.50" stroke="#1a1a1a" stroke-width="0.95"/>
<text class="b" x="364.40" y="367.38" font-size="8.3" text-anchor="middle" >medium</text>
<text class="b" x="364.40" y="382.38" font-size="8.3" text-anchor="middle" >HSV</text>
<text class="b" x="364.40" y="397.38" font-size="8.3" text-anchor="middle" >Flu</text>
<text class="b" x="364.40" y="410.88" font-size="8.3" text-anchor="middle" >SeV</text>
<text class="b" x="364.40" y="424.78" font-size="8.3" text-anchor="middle" >poly I:C</text>
<text class="b" x="364.40" y="439.58" font-size="8.3" text-anchor="middle" >R848</text>
<text class="b" x="364.40" y="453.68" font-size="8.3" text-anchor="middle" >CpG A</text>
<circle cx="482.50" cy="335.30" r="2.95" fill="#000"/>
<path d="M508.50,332.59 L511.20,337.79 L505.80,337.79 Z" fill="#fff" stroke="#1a1a1a" stroke-width="0.85" stroke-linejoin="miter"/>
<circle cx="473.75" cy="335.40" r="2.45" fill="#fff" stroke="#1a1a1a" stroke-width="0.95"/>
<circle cx="385.15" cy="364.15" r="2.95" fill="#000"/>
<path d="M387.35,356.99 L390.05,362.19 L384.65,362.19 Z" fill="#fff" stroke="#1a1a1a" stroke-width="0.85" stroke-linejoin="miter"/>
<circle cx="388.00" cy="368.00" r="2.45" fill="#fff" stroke="#1a1a1a" stroke-width="0.95"/>
<circle cx="385.80" cy="378.50" r="2.95" fill="#000"/>
<path d="M388.00,371.69 L390.70,376.89 L385.30,376.89 Z" fill="#fff" stroke="#1a1a1a" stroke-width="0.85" stroke-linejoin="miter"/>
<circle cx="388.00" cy="382.05" r="2.45" fill="#fff" stroke="#1a1a1a" stroke-width="0.95"/>
<circle cx="390.15" cy="393.15" r="2.95" fill="#000"/>
<path d="M398.40,388.29 L401.10,393.49 L395.70,393.49 Z" fill="#fff" stroke="#1a1a1a" stroke-width="0.85" stroke-linejoin="miter"/>
<circle cx="395.20" cy="394.35" r="2.45" fill="#fff" stroke="#1a1a1a" stroke-width="0.95"/>
<circle cx="390.95" cy="407.20" r="2.95" fill="#000"/>
<path d="M401.40,402.39 L404.10,407.59 L398.70,407.59 Z" fill="#fff" stroke="#1a1a1a" stroke-width="0.85" stroke-linejoin="miter"/>
<circle cx="397.95" cy="408.80" r="2.45" fill="#fff" stroke="#1a1a1a" stroke-width="0.95"/>
<circle cx="384.90" cy="421.80" r="2.95" fill="#000"/>
<path d="M386.70,414.99 L389.40,420.19 L384.00,420.19 Z" fill="#fff" stroke="#1a1a1a" stroke-width="0.85" stroke-linejoin="miter"/>
<circle cx="387.50" cy="425.50" r="2.45" fill="#fff" stroke="#1a1a1a" stroke-width="0.95"/>
<circle cx="385.50" cy="436.50" r="2.95" fill="#000"/>
<path d="M388.70,429.39 L391.40,434.59 L386.00,434.59 Z" fill="#fff" stroke="#1a1a1a" stroke-width="0.85" stroke-linejoin="miter"/>
<circle cx="388.50" cy="440.20" r="2.45" fill="#fff" stroke="#1a1a1a" stroke-width="0.95"/>
<circle cx="387.50" cy="450.10" r="2.95" fill="#000"/>
<path d="M391.50,443.39 L394.20,448.59 L388.80,448.59 Z" fill="#fff" stroke="#1a1a1a" stroke-width="0.85" stroke-linejoin="miter"/>
<circle cx="389.30" cy="453.90" r="2.45" fill="#fff" stroke="#1a1a1a" stroke-width="0.95"/>
</svg>
</body></html>
